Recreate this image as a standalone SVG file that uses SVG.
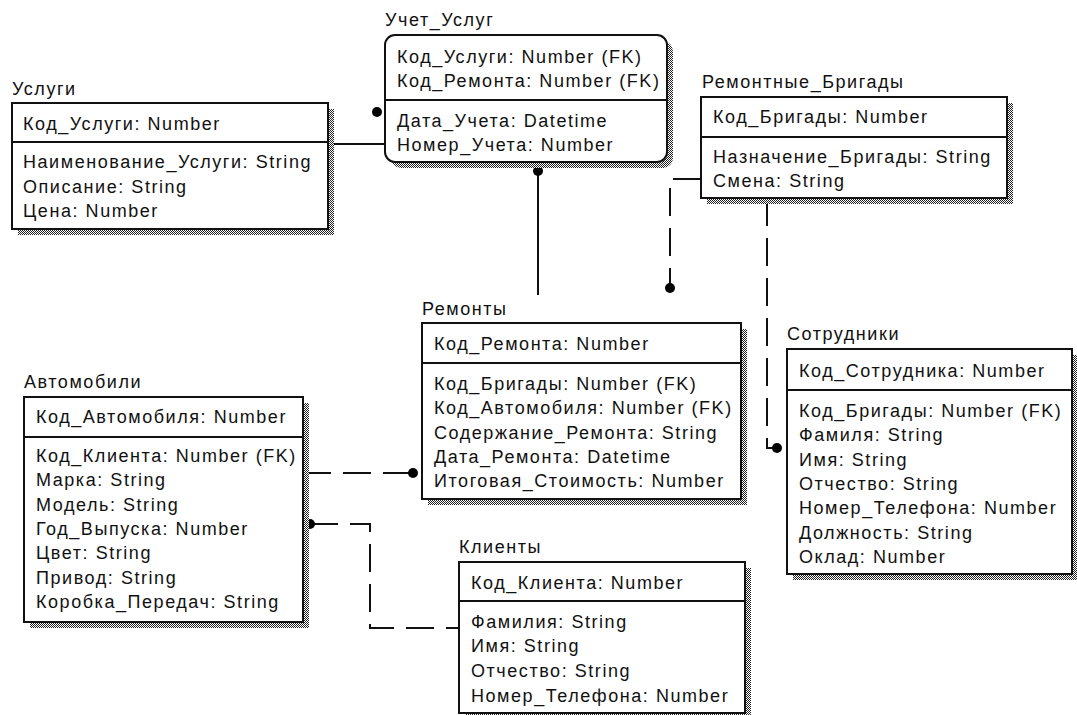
<svg xmlns="http://www.w3.org/2000/svg" width="1077" height="715" viewBox="0 0 1077 715">
<defs>
<pattern id="stip" patternUnits="userSpaceOnUse" width="2" height="2">
<rect width="2" height="2" fill="#fff"/>
<rect width="1" height="1" fill="#222"/>
<rect x="1" y="1" width="1" height="1" fill="#222"/>
</pattern>
<style>
text{font-family:"Liberation Sans",Arial,sans-serif;font-size:18px;letter-spacing:1.55px;fill:#111}
.box{fill:#fff;stroke:#111;stroke-width:2}
.shadow{fill:url(#stip)}
.div{stroke:#111;stroke-width:2}
.solid{fill:none;stroke:#111;stroke-width:2}
.dash{fill:none;stroke:#111;stroke-width:2;stroke-dasharray:28 12}
.dot{fill:#000}
</style>
</defs>
<rect width="1077" height="715" fill="#fff"/>

<g id="connectors">
<line class="solid" x1="328" y1="144" x2="385" y2="144"/>
<circle class="dot" cx="377" cy="112" r="5"/>
<line class="solid" x1="538" y1="171" x2="538" y2="295"/>
<circle class="dot" cx="538" cy="171" r="5"/>
<polyline class="dash" points="701,179 670,179 670,288"/>
<circle class="dot" cx="670" cy="288" r="5"/>
<polyline class="dash" points="767,198 767,448 777,448"/>
<circle class="dot" cx="777" cy="448" r="5"/>
<line class="dash" x1="303" y1="473" x2="413" y2="473"/>
<circle class="dot" cx="413" cy="473" r="5"/>
<polyline class="dash" points="310,524 370,524 370,628 459,628"/>
<circle class="dot" cx="310" cy="524" r="5"/>
</g>

<g id="uslugi">
<text x="12" y="95">Услуги</text>
<rect class="shadow" x="18" y="109" width="316" height="126"/>
<rect class="box" x="12" y="103" width="316" height="126"/>
<line class="div" x1="12" y1="142" x2="328" y2="142"/>
<text x="23" y="130">Код_Услуги: Number</text>
<text x="23" y="168">Наименование_Услуги: String</text>
<text x="23" y="193">Описание: String</text>
<text x="23" y="217">Цена: Number</text>
</g>

<g id="uchet_uslug">
<text x="385" y="26">Учет_Услуг</text>
<rect class="shadow" x="391" y="41" width="282" height="127" rx="10"/>
<rect class="box" x="385" y="35" width="282" height="127" rx="10"/>
<line class="div" x1="385" y1="100" x2="667" y2="100"/>
<text x="397" y="63">Код_Услуги: Number (FK)</text>
<text x="397" y="87">Код_Ремонта: Number (FK)</text>
<text x="397" y="127">Дата_Учета: Datetime</text>
<text x="397" y="151">Номер_Учета: Number</text>
</g>

<g id="brigady">
<text x="702" y="88">Ремонтные_Бригады</text>
<rect class="shadow" x="707" y="103" width="306" height="101"/>
<rect class="box" x="701" y="97" width="306" height="101"/>
<line class="div" x1="701" y1="137" x2="1007" y2="137"/>
<text x="713" y="123">Код_Бригады: Number</text>
<text x="713" y="163">Назначение_Бригады: String</text>
<text x="713" y="187">Смена: String</text>
</g>

<g id="remonty">
<text x="422" y="315">Ремонты</text>
<rect class="shadow" x="428" y="329" width="319" height="176"/>
<rect class="box" x="422" y="323" width="319" height="176"/>
<line class="div" x1="422" y1="363" x2="741" y2="363"/>
<text x="434" y="350">Код_Ремонта: Number</text>
<text x="434" y="390">Код_Бригады: Number (FK)</text>
<text x="434" y="414">Код_Автомобиля: Number (FK)</text>
<text x="434" y="439">Содержание_Ремонта: String</text>
<text x="434" y="463">Дата_Ремонта: Datetime</text>
<text x="434" y="487">Итоговая_Стоимость: Number</text>
</g>

<g id="avtomobili">
<text x="24" y="388">Автомобили</text>
<rect class="shadow" x="30" y="403" width="279" height="225"/>
<rect class="box" x="24" y="397" width="279" height="225"/>
<line class="div" x1="24" y1="437" x2="303" y2="437"/>
<text x="36" y="423">Код_Автомобиля: Number</text>
<text x="36" y="462">Код_Клиента: Number (FK)</text>
<text x="36" y="486">Марка: String</text>
<text x="36" y="511">Модель: String</text>
<text x="36" y="535">Год_Выпуска: Number</text>
<text x="36" y="559">Цвет: String</text>
<text x="36" y="584">Привод: String</text>
<text x="36" y="608">Коробка_Передач: String</text>
</g>

<g id="klienty">
<text x="459" y="553">Клиенты</text>
<rect class="shadow" x="465" y="568" width="286" height="151"/>
<rect class="box" x="459" y="562" width="286" height="151"/>
<line class="div" x1="459" y1="601" x2="745" y2="601"/>
<text x="471" y="589">Код_Клиента: Number</text>
<text x="471" y="628">Фамилия: String</text>
<text x="471" y="652">Имя: String</text>
<text x="471" y="677">Отчество: String</text>
<text x="471" y="702">Номер_Телефона: Number</text>
</g>

<g id="sotrudniki">
<text x="787" y="340">Сотрудники</text>
<rect class="shadow" x="793" y="355" width="285" height="225"/>
<rect class="box" x="787" y="349" width="285" height="225"/>
<line class="div" x1="787" y1="390" x2="1072" y2="390"/>
<text x="799" y="377">Код_Сотрудника: Number</text>
<text x="799" y="417">Код_Бригады: Number (FK)</text>
<text x="799" y="441">Фамиля: String</text>
<text x="799" y="466">Имя: String</text>
<text x="799" y="490">Отчество: String</text>
<text x="799" y="514">Номер_Телефона: Number</text>
<text x="799" y="539">Должность: String</text>
<text x="799" y="563">Оклад: Number</text>
</g>
</svg>
